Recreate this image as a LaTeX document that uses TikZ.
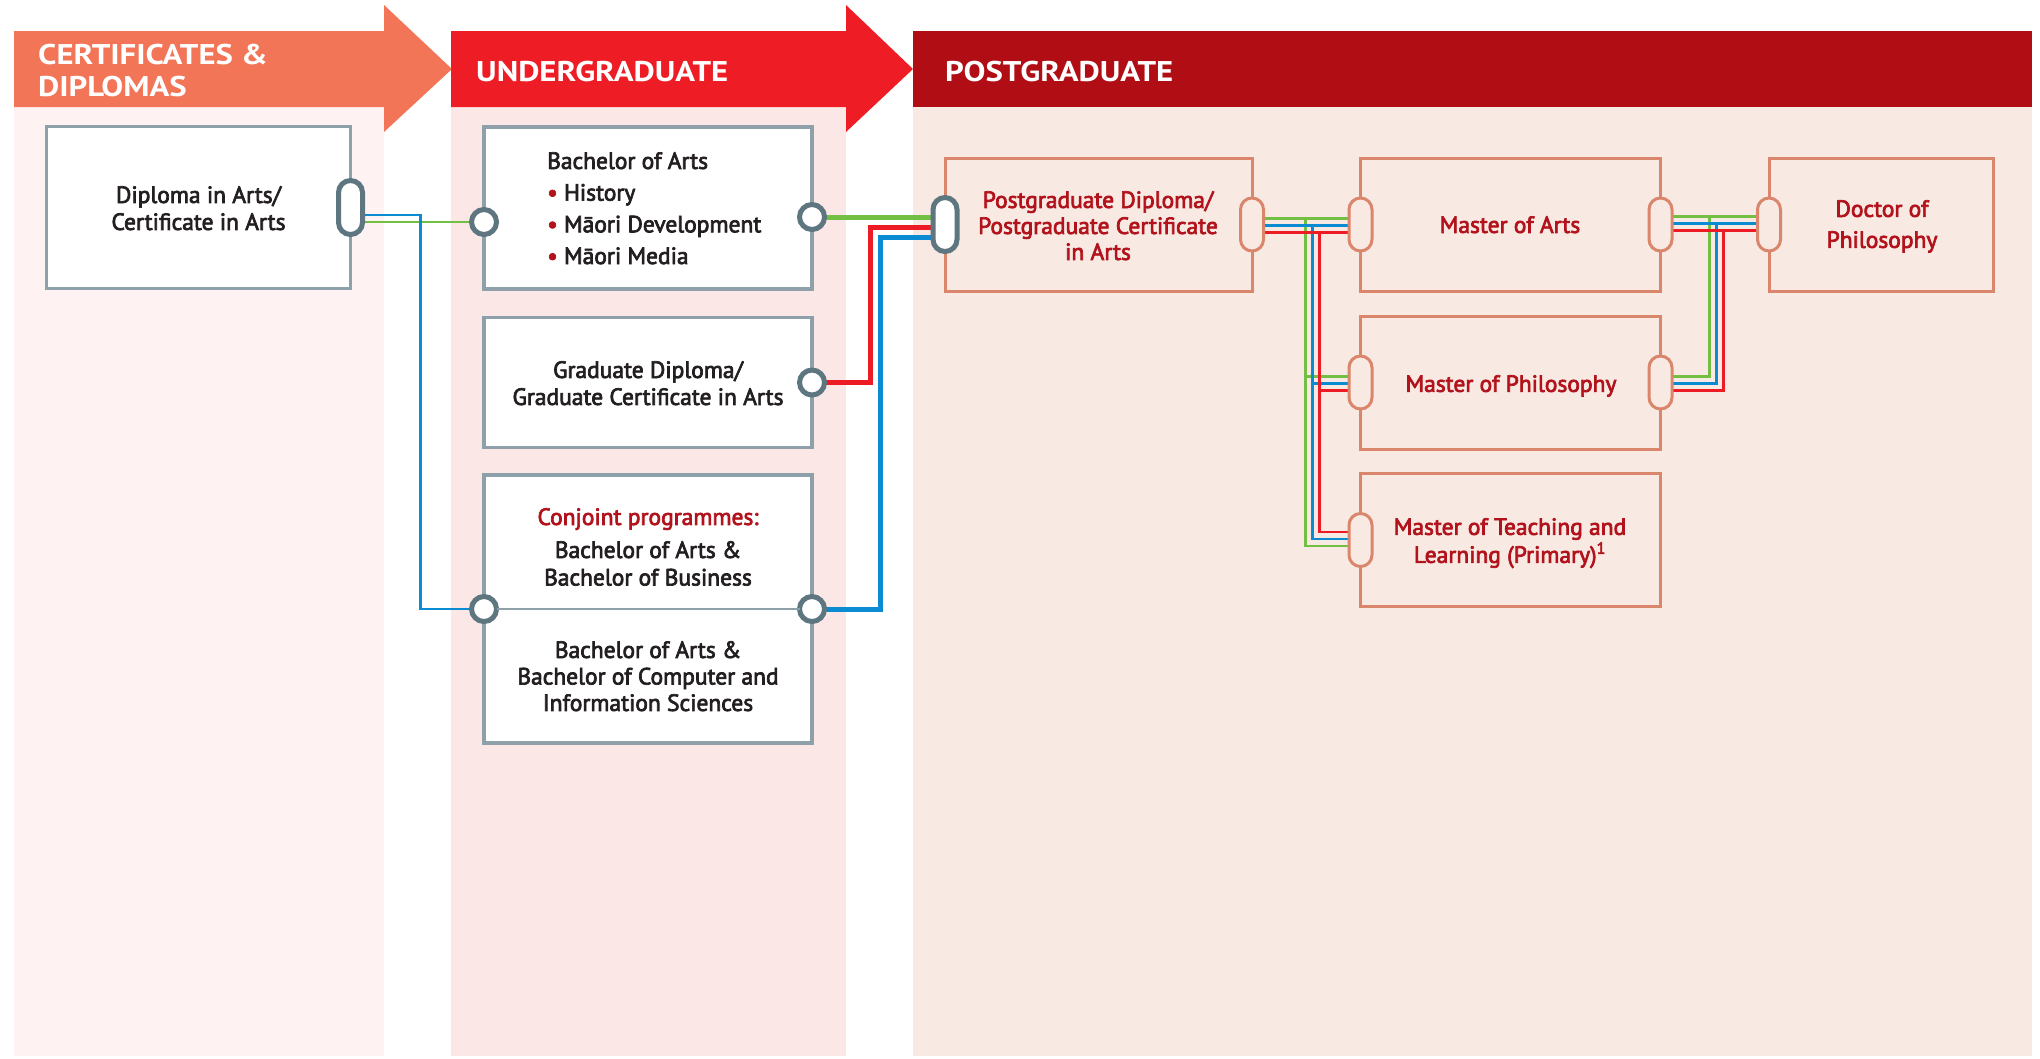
\documentclass[tikz,border=0pt]{standalone}
\usepackage{fontspec}
\setmainfont{PT Sans}
\newfontfamily\bodyfont{PT Sans}[FakeBold=3]
\newfontfamily\headfont{PT Sans Bold}[FakeStretch=1.15]
\usetikzlibrary{calc}
\definecolor{pan1}{HTML}{FEF3F2}
\definecolor{pan2}{HTML}{FCE7E7}
\definecolor{pan3}{HTML}{F8E9E2}
\definecolor{hd1}{HTML}{F27557}
\definecolor{hd2}{HTML}{EE1D25}
\definecolor{hd3}{HTML}{B00D14}
\definecolor{gbord}{HTML}{8EA1AA}
\definecolor{gport}{HTML}{5E7680}
\definecolor{sbord}{HTML}{DA866C}
\definecolor{pgred}{HTML}{B2121B}
\definecolor{ink}{HTML}{231F20}
\definecolor{lgreen}{HTML}{72BF44}
\definecolor{lblue}{HTML}{0A8BD2}
\definecolor{lred}{HTML}{ED1C24}
\pgfdeclarelayer{back}
\pgfdeclarelayer{wires}
\pgfsetlayers{back,wires,main}
\tikzset{
  ugbox/.style={draw=gbord, line width=3.5pt, fill=white, inner sep=0pt, outer sep=0pt, minimum width=328pt},
  pgbox/.style={draw=sbord, line width=3pt, inner sep=0pt, outer sep=0pt, minimum height=133pt},
  ring/.style={circle, draw=gport, line width=5pt, fill=white, inner sep=0pt, outer sep=0pt, minimum size=25pt},
  gpill/.style={rectangle, rounded corners=12pt, draw=gport, line width=5pt, fill=white, inner sep=0pt, outer sep=0pt, minimum width=24pt, minimum height=54pt},
  spill/.style={rectangle, rounded corners=11.5pt, draw=sbord, line width=3pt, fill=pan3, inner sep=0pt, outer sep=0pt, minimum width=23pt, minimum height=53pt},
  bodytxt/.style={font=\bodyfont\fontsize{23.5}{27}\selectfont, text=ink, align=center, inner sep=0pt, anchor=north},
  pgtxt/.style={bodytxt, text=pgred},
  headtxt/.style={font=\headfont\fontsize{28.5}{32}\selectfont, text=white, inner sep=0pt, align=left},
  thinw/.style={line width=2.7pt},
  thickw/.style={line width=5pt},
}
\begin{document}
\begin{tikzpicture}[x=1pt,y=-1pt]
\useasboundingbox (0,0) rectangle (2040,1058);
\begin{pgfonlayer}{back}
  \fill[pan1] (14,32) rectangle (384,1056);
  \fill[pan2] (451,32) rectangle (846,1056);
  \fill[pan3] (913,32) rectangle (2032,1056);
  \fill[hd1] (14,31) -- (384,31) -- (384,5) -- (452,69) -- (384,132) -- (384,107) -- (14,107) -- cycle;
  \fill[hd2] (451,31) -- (846,31) -- (846,5) -- (913,69) -- (846,132) -- (846,107) -- (451,107) -- cycle;
  \fill[hd3] (913,31) rectangle (2032,107);
\end{pgfonlayer}

% headers
\node[headtxt, anchor=west] (hcert) at (38,71) {CERTIFICATES \&\\DIPLOMAS};
\node[headtxt, anchor=base west] (hug) at (476,81) {UNDERGRADUATE};
\node[headtxt, anchor=base west] (hpg) at (945,81) {POSTGRADUATE};

% boxes
\node[ugbox, minimum width=304pt, minimum height=162pt] (dip) at (198.5,207.5) {};
\node[ugbox, minimum height=162pt] (ba) at (648,208) {};
\node[ugbox, minimum height=130pt] (gd) at (648,382.5) {};
\node[ugbox, minimum height=268pt] (cj) at (648,609) {};
\node[pgbox, minimum width=307pt] (pgd) at (1098.5,224.5) {};
\node[pgbox, minimum width=300pt] (ma) at (1510.5,224.5) {};
\node[pgbox, minimum width=300pt] (mp) at (1510.5,382.5) {};
\node[pgbox, minimum width=300pt] (mt) at (1510.5,540) {};
\node[pgbox, minimum width=224pt] (phd) at (1881,224.5) {};

% texts
\node[bodytxt] (dipt) at (198.5,186) {Diploma in Arts/\\Certificate in Arts};
\node[bodytxt, align=left, anchor=north west, font=\bodyfont\fontsize{23.5}{31.7}\selectfont] (bat) at (547,152)
  {Bachelor of Arts\\{\color{pgred}•} History\\{\color{pgred}•} Māori Development\\{\color{pgred}•} Māori Media};
\node[bodytxt] (gdt) at (648,361) {Graduate Diploma/\\Graduate Certificate in Arts};
\node[bodytxt, font=\bodyfont\fontsize{23.5}{27.5}\selectfont] (cjt1) at (648,508)
  {{\color{pgred}Conjoint programmes:}\\[5.5pt]Bachelor of Arts \&\\Bachelor of Business};
\node[bodytxt, font=\bodyfont\fontsize{23.5}{26.5}\selectfont] (cjt2) at (648,641)
  {Bachelor of Arts \&\\Bachelor of Computer and\\Information Sciences};
\node[pgtxt, font=\bodyfont\fontsize{23.5}{26}\selectfont] (pgdt) at (1098,191)
  {Postgraduate Diploma/\\Postgraduate Certificate\\in Arts};
\node[pgtxt] (mat) at (1510,216) {Master of Arts};
\node[pgtxt] (mpt) at (1511,375) {Master of Philosophy};
\node[pgtxt, font=\bodyfont\fontsize{23.5}{28}\selectfont] (mtt) at (1510,518)
  {Master of Teaching and\\Learning (Primary)\textsuperscript{1}};
\node[pgtxt, font=\bodyfont\fontsize{23.5}{31}\selectfont] (phdt) at (1882,200) {Doctor of\\Philosophy};

% ports
\node[gpill] (dipP) at (dip.east) {};
\node[ring] (baL) at ($(ba.west)+(0,14)$) {};
\node[ring] (baR) at ($(ba.east)+(0,9)$) {};
\node[ring] (gdR) at (gd.east) {};
\node[ring] (cjL) at (cj.west) {};
\node[ring] (cjR) at (cj.east) {};
\node[gpill] (pgL) at (pgd.west) {};
\node[spill] (pgR) at (pgd.east) {};
\node[spill] (maL) at (ma.west) {};
\node[spill] (maR) at (ma.east) {};
\node[spill] (mpL) at (mp.west) {};
\node[spill] (mpR) at (mp.east) {};
\node[spill] (mtL) at (mt.west) {};
\node[spill] (phL) at (phd.west) {};

% divider in conjoint box
\draw[gbord, line width=1.5pt] (cjL) -- (cjR);

\begin{pgfonlayer}{wires}
  % thick connectors into the postgraduate diploma
  \draw[thickw, lgreen] (baR.center) -- ($(pgL.center)+(0,-7.5)$);
  \draw[thickw, lred] (gdR.center) -| ($(pgL.center)+(-75,2.5)$) -- ($(pgL.center)+(0,2.5)$);
  \draw[thickw, lblue] (cjR.center) -| ($(pgL.center)+(-65,13)$) -- ($(pgL.center)+(0,13)$);
  % diploma connectors
  \draw[thinw, lgreen] ($(dipP.center)+(0,14.5)$) -- (baL.center);
  \draw[thinw, lblue] ($(dipP.center)+(0,7.5)$) -| ($(cjL.center)+(-63.5,0)$) -- (cjL.center);
  % postgraduate network, left
  \draw[thinw, lgreen] ($(pgR.center)+(0,-6)$) -- ($(maL.center)+(0,-6)$)
     ($(maL.center)+(-55,-6)$) |- ($(mtL.center)+(0,6)$)
     ($(mpL.center)+(-55,-6)$) -- ($(mpL.center)+(0,-6)$);
  \draw[thinw, lblue] ($(pgR.center)+(0,1)$) -- ($(maL.center)+(0,1)$)
     ($(maL.center)+(-48,1)$) |- ($(mtL.center)+(0,-1)$)
     ($(mpL.center)+(-48,1)$) -- ($(mpL.center)+(0,1)$);
  \draw[thinw, lred] ($(pgR.center)+(0,8)$) -- ($(maL.center)+(0,8)$)
     ($(maL.center)+(-41,8)$) |- ($(mtL.center)+(0,-8)$)
     ($(mpL.center)+(-41,8)$) -- ($(mpL.center)+(0,8)$);
  % postgraduate network, right
  \draw[thinw, lgreen] ($(maR.center)+(0,-8)$) -- ($(phL.center)+(0,-8)$)
     ($(mpR.center)+(0,-6)$) -| ($(maR.center)+(49,-8)$);
  \draw[thinw, lblue] ($(maR.center)+(0,-1)$) -- ($(phL.center)+(0,-1)$)
     ($(mpR.center)+(0,1)$) -| ($(maR.center)+(56,-1)$);
  \draw[thinw, lred] ($(maR.center)+(0,6)$) -- ($(phL.center)+(0,6)$)
     ($(mpR.center)+(0,8)$) -| ($(maR.center)+(63,6)$);
\end{pgfonlayer}
\end{tikzpicture}
\end{document}
